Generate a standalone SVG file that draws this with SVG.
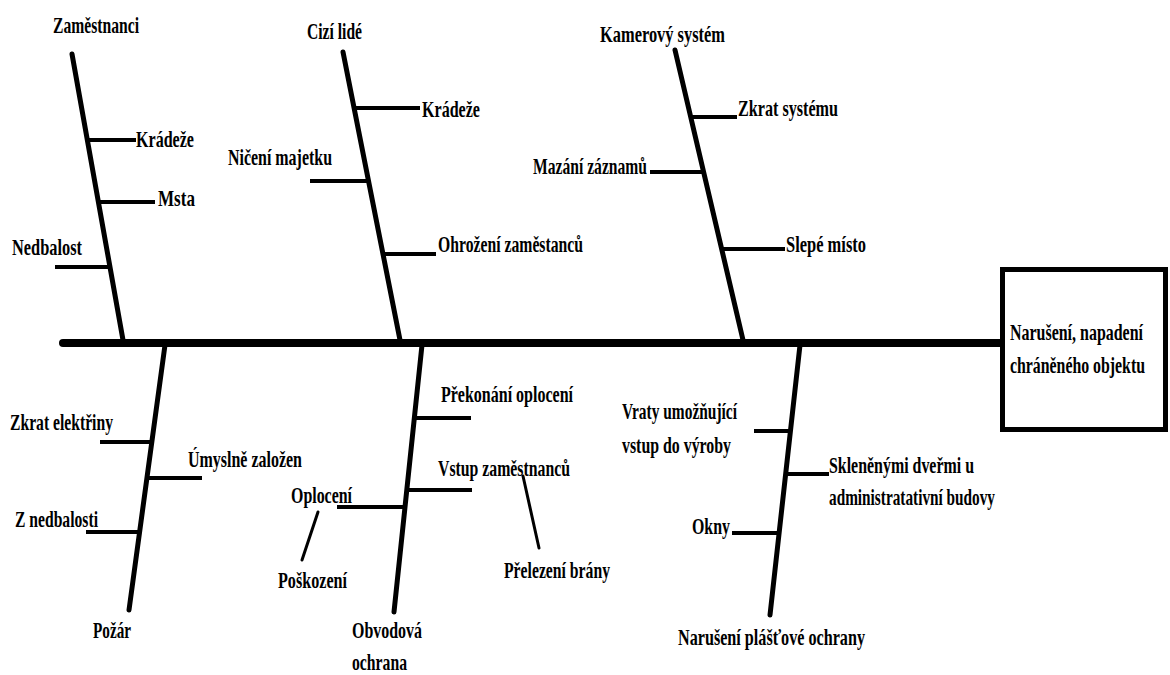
<svg xmlns="http://www.w3.org/2000/svg" width="1170" height="675" viewBox="0 0 1170 675">
<style>
.t{font-family:"Liberation Serif","Times New Roman",serif;font-weight:bold;font-size:24px;fill:#000}
.spine{stroke:#000;stroke-width:8;stroke-linecap:round;fill:none}
.bone{stroke:#000;stroke-width:5;stroke-linecap:round;fill:none}
.br{stroke:#000;stroke-width:4;fill:none}
.thin{stroke:#000;stroke-width:3;stroke-linecap:round;fill:none}
</style>
<rect x="0" y="0" width="1170" height="675" fill="#fff"/>
<g id="connectors">
<line class="spine" x1="63" y1="343" x2="1000" y2="343"/>
<line class="bone" x1="72" y1="54" x2="123" y2="340"/>
<line class="br" x1="87" y1="140" x2="136" y2="140"/>
<line class="br" x1="98" y1="202" x2="155" y2="202"/>
<line class="br" x1="55" y1="267" x2="110" y2="267"/>
<line class="bone" x1="343" y1="52" x2="400" y2="340"/>
<line class="br" x1="354" y1="108" x2="420" y2="108"/>
<line class="br" x1="310" y1="181" x2="368" y2="181"/>
<line class="br" x1="383" y1="254" x2="436" y2="254"/>
<line class="bone" x1="675" y1="50" x2="743" y2="340"/>
<line class="br" x1="691" y1="117" x2="737" y2="117"/>
<line class="br" x1="650" y1="172" x2="703" y2="172"/>
<line class="br" x1="722" y1="249" x2="785" y2="249"/>
<line class="bone" x1="165" y1="345" x2="129" y2="610"/>
<line class="br" x1="100" y1="442" x2="152" y2="442"/>
<line class="br" x1="147" y1="478" x2="202" y2="478"/>
<line class="br" x1="86" y1="532" x2="140" y2="532"/>
<line class="bone" x1="422" y1="345" x2="394" y2="612"/>
<line class="br" x1="414" y1="418" x2="471" y2="418"/>
<line class="br" x1="407" y1="490" x2="472" y2="490"/>
<line class="br" x1="337" y1="507" x2="405" y2="507"/>
<line class="thin" x1="318" y1="512" x2="302" y2="560"/>
<line class="thin" x1="523" y1="476" x2="539" y2="548"/>
<line class="bone" x1="800" y1="345" x2="770" y2="615"/>
<line class="br" x1="754" y1="431" x2="790" y2="431"/>
<line class="br" x1="786" y1="474" x2="829" y2="474"/>
<line class="br" x1="732" y1="533" x2="779" y2="533"/>
</g>
<g id="effect">
<rect x="1002.5" y="269.5" width="163" height="160" fill="#fff" stroke="#000" stroke-width="5"/>
<text class="t" transform="translate(1010,340) scale(0.665,1)" x="0" y="0" textLength="200" lengthAdjust="spacingAndGlyphs">Narušení, napadení</text>
<text class="t" transform="translate(1010,373) scale(0.665,1)" x="0" y="0" textLength="203" lengthAdjust="spacingAndGlyphs">chráněného objektu</text>
</g>
<g id="cat-zamestnanci"><text class="t" x="53" y="33" textLength="86" lengthAdjust="spacingAndGlyphs">Zaměstnanci</text></g>
<g id="c-kradeze1"><text class="t" x="136" y="147" textLength="58" lengthAdjust="spacingAndGlyphs">Krádeže</text></g>
<g id="c-msta"><text class="t" x="158" y="206" textLength="37" lengthAdjust="spacingAndGlyphs">Msta</text></g>
<g id="c-nedbalost"><text class="t" x="12" y="255" textLength="70" lengthAdjust="spacingAndGlyphs">Nedbalost</text></g>
<g id="cat-cizi"><text class="t" x="307" y="39" textLength="55" lengthAdjust="spacingAndGlyphs">Cizí lidé</text></g>
<g id="c-kradeze2"><text class="t" x="422" y="117" textLength="58" lengthAdjust="spacingAndGlyphs">Krádeže</text></g>
<g id="c-niceni"><text class="t" x="228" y="165" textLength="104" lengthAdjust="spacingAndGlyphs">Ničení majetku</text></g>
<g id="c-ohrozeni"><text class="t" x="438" y="252" textLength="145" lengthAdjust="spacingAndGlyphs">Ohrožení zaměstanců</text></g>
<g id="cat-kamera"><text class="t" x="600" y="42" textLength="125" lengthAdjust="spacingAndGlyphs">Kamerový systém</text></g>
<g id="c-zkrat-sys"><text class="t" x="738" y="116" textLength="100" lengthAdjust="spacingAndGlyphs">Zkrat systému</text></g>
<g id="c-mazani"><text class="t" x="533" y="174" textLength="114" lengthAdjust="spacingAndGlyphs">Mazání záznamů</text></g>
<g id="c-slepe"><text class="t" x="786" y="252" textLength="80" lengthAdjust="spacingAndGlyphs">Slepé místo</text></g>
<g id="cat-pozar"><text class="t" x="93" y="638" textLength="38" lengthAdjust="spacingAndGlyphs">Požár</text></g>
<g id="c-zkrat-el"><text class="t" x="10" y="430" textLength="103" lengthAdjust="spacingAndGlyphs">Zkrat elektřiny</text></g>
<g id="c-umyslne"><text class="t" x="188" y="467" textLength="114" lengthAdjust="spacingAndGlyphs">Úmyslně založen</text></g>
<g id="c-znedbalosti"><text class="t" x="15" y="527" textLength="83" lengthAdjust="spacingAndGlyphs">Z nedbalosti</text></g>
<g id="cat-obvodova">
<text class="t" x="352" y="638" textLength="70" lengthAdjust="spacingAndGlyphs">Obvodová</text>
<text class="t" x="352" y="670" textLength="55" lengthAdjust="spacingAndGlyphs">ochrana</text>
</g>
<g id="c-prekonani"><text class="t" x="441" y="402" textLength="132" lengthAdjust="spacingAndGlyphs">Překonání oplocení</text></g>
<g id="c-vstup"><text class="t" x="438" y="476" textLength="132" lengthAdjust="spacingAndGlyphs">Vstup zaměstnanců</text></g>
<g id="c-oploceni"><text class="t" x="291" y="503" textLength="61" lengthAdjust="spacingAndGlyphs">Oplocení</text></g>
<g id="c-poskozeni"><text class="t" x="278" y="588" textLength="69" lengthAdjust="spacingAndGlyphs">Poškození</text></g>
<g id="c-prelezeni"><text class="t" x="504" y="578" textLength="106" lengthAdjust="spacingAndGlyphs">Přelezení brány</text></g>
<g id="cat-plast"><text class="t" x="678" y="645" textLength="187" lengthAdjust="spacingAndGlyphs">Narušení plášťové ochrany</text></g>
<g id="c-vraty">
<text class="t" x="622" y="419" textLength="115" lengthAdjust="spacingAndGlyphs">Vraty umožňující</text>
<text class="t" x="622" y="453" textLength="109" lengthAdjust="spacingAndGlyphs">vstup do výroby</text>
</g>
<g id="c-sklenenymi">
<text class="t" x="829" y="473" textLength="145" lengthAdjust="spacingAndGlyphs">Skleněnými dveřmi u</text>
<text class="t" x="829" y="505" textLength="166" lengthAdjust="spacingAndGlyphs">administratativní budovy</text>
</g>
<g id="c-okny"><text class="t" x="692" y="534" textLength="38" lengthAdjust="spacingAndGlyphs">Okny</text></g>
</svg>
